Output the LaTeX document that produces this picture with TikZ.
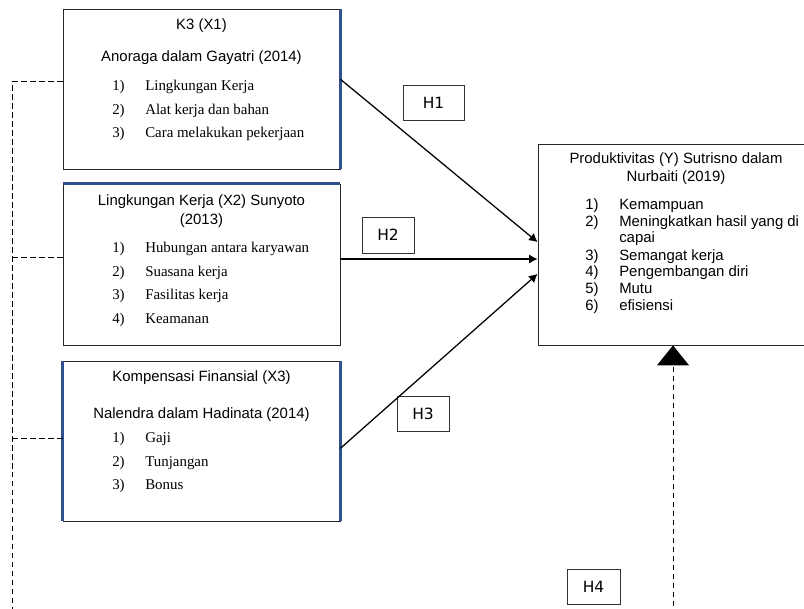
\documentclass[tikz,border=0pt]{standalone}
\usepackage{fontspec}
\setmainfont{Liberation Serif}
\setsansfont{Liberation Sans}
\newfontfamily\hfont{DejaVu Sans}
\usetikzlibrary{arrows.meta}
\definecolor{edgeblue}{RGB}{47,82,143}
\newcommand{\kitem}[2]{\makebox[0.825cm][l]{#1}#2}
\newcommand{\yitem}[2]{\makebox[0.85cm][l]{#1}#2}
\tikzset{
	varbox/.style={draw=black!85,line width=0.6pt,minimum width=6.925cm,minimum height=4cm},
	hbox/.style={draw=black!80,line width=0.6pt,minimum width=1.3cm,minimum height=0.875cm,font=\hfont\fontsize{11}{12}\selectfont},
	ttl/.style={font=\sffamily\fontsize{10.6}{12}\selectfont,anchor=base,inner sep=0pt},
	itm/.style={font=\rmfamily\fontsize{10.6}{12}\selectfont,anchor=base west,inner sep=0pt},
	yitm/.style={font=\sffamily\fontsize{10.6}{12}\selectfont,anchor=base west,inner sep=0pt},
	blueedge/.style={edgeblue,line width=2pt},
	harrow/.style={-{Latex[length=2.1mm,width=2.3mm]},line width=0.9pt},
	link/.style={line width=0.7pt,dash pattern=on 3.8pt off 2.6pt}
}
\begin{document}
\begin{tikzpicture}[x=0.025cm,y=-0.025cm]
	\clip (0,0) rectangle (804,609);
	\fill[white] (0,0) rectangle (804,609);
	%boxes
	\node[varbox] (x1) at (201.5,89) {};
	\node[varbox,minimum height=4.025cm] (x2) at (201.5,264.5) {};
	\node[varbox] (x3) at (201.5,441) {};
	\node[varbox,minimum width=6.9cm,minimum height=5.025cm] (y) at (676,244.5) {};
	%
	\draw[blueedge] (x1.north east) -- (x1.south east);
	\draw[blueedge] (x2.north west) -- (x2.north east);
	\draw[blueedge] (x3.north west) -- (x3.south west);
	\draw[blueedge] (x3.north east) -- (x3.south east);
	
	%inner labels
	\node[ttl] (x1a) at (201.5,30)  {K3 (X1)};
	\node[ttl] (x1b) at (201.5,62)  {Anoraga dalam Gayatri (2014)};
	\node[itm] (x1c) at (112,91)    {\kitem{1)}{Lingkungan Kerja}};
	\node[itm] (x1d) at (112,114.5) {\kitem{2)}{Alat kerja dan bahan}};
	\node[itm] (x1e) at (112,138)   {\kitem{3)}{Cara melakukan pekerjaan}};
	%
	\node[ttl] (x2a) at (201.5,206) {Lingkungan Kerja (X2) Sunyoto};
	\node[ttl] (x2b) at (201.5,225) {(2013)};
	\node[itm] (x2c) at (112,253)   {\kitem{1)}{Hubungan antara karyawan}};
	\node[itm] (x2d) at (112,276.5) {\kitem{2)}{Suasana kerja}};
	\node[itm] (x2e) at (112,300)   {\kitem{3)}{Fasilitas kerja}};
	\node[itm] (x2f) at (112,323.5) {\kitem{4)}{Keamanan}};
	%
	\node[ttl] (x3a) at (201.5,382) {Kompensasi Finansial (X3)};
	\node[ttl] (x3b) at (201.5,419) {Nalendra dalam Hadinata (2014)};
	\node[itm] (x3c) at (112,443)   {\kitem{1)}{Gaji}};
	\node[itm] (x3d) at (112,466.5) {\kitem{2)}{Tunjangan}};
	\node[itm] (x3e) at (112,490)   {\kitem{3)}{Bonus}};
	%
	\node[ttl] (ya) at (676,164)    {Produktivitas (Y) Sutrisno dalam};
	\node[ttl] (yb) at (676,182)    {Nurbaiti (2019)};
	\node[yitm] (yc) at (585,210)   {\yitem{1)}{Kemampuan}};
	\node[yitm] (yd) at (585,226.5) {\yitem{2)}{Meningkatkan hasil yang di}};
	\node[yitm] (ye) at (619,243)   {capai};
	\node[yitm] (yf) at (585,260.5) {\yitem{3)}{Semangat kerja}};
	\node[yitm] (yg) at (585,277)   {\yitem{4)}{Pengembangan diri}};
	\node[yitm] (yh) at (585,294)   {\yitem{5)}{Mutu}};
	\node[yitm] (yi) at (585,311)   {\yitem{6)}{efisiensi}};
	
	%hypotheses
	\node[hbox,minimum width=1.525cm] (h1) at (433.5,102.5) {H1};
	\node[hbox,minimum height=0.9cm]  (h2) at (388,235)     {H2};
	\node[hbox] (h3) at (423,413.5)   {H3};
	\node[hbox,minimum width=1.325cm] (h4) at (593.5,586.5) {H4};
	
	%arrows
	\draw[harrow] (x1.4) -- (y.179);
	\draw[harrow] (x2.east |- y.186) -- (y.186);
	\draw[harrow] (x3.-3) -- (y.192);
	
	%dashed links
	\coordinate (lbot) at (12,615);
	\coordinate (rbot) at (673,615);
	\draw[link] (x1.177) -| (lbot);
	\draw[link] (x2.177) -- (x2.177 -| lbot);
	\draw[link] (x3.179) -- (x3.179 -| lbot);
	\draw[link,-{Triangle[width=0.8cm,length=0.5cm]}] (rbot) -- (rbot |- y.south);
\end{tikzpicture}
\end{document}
